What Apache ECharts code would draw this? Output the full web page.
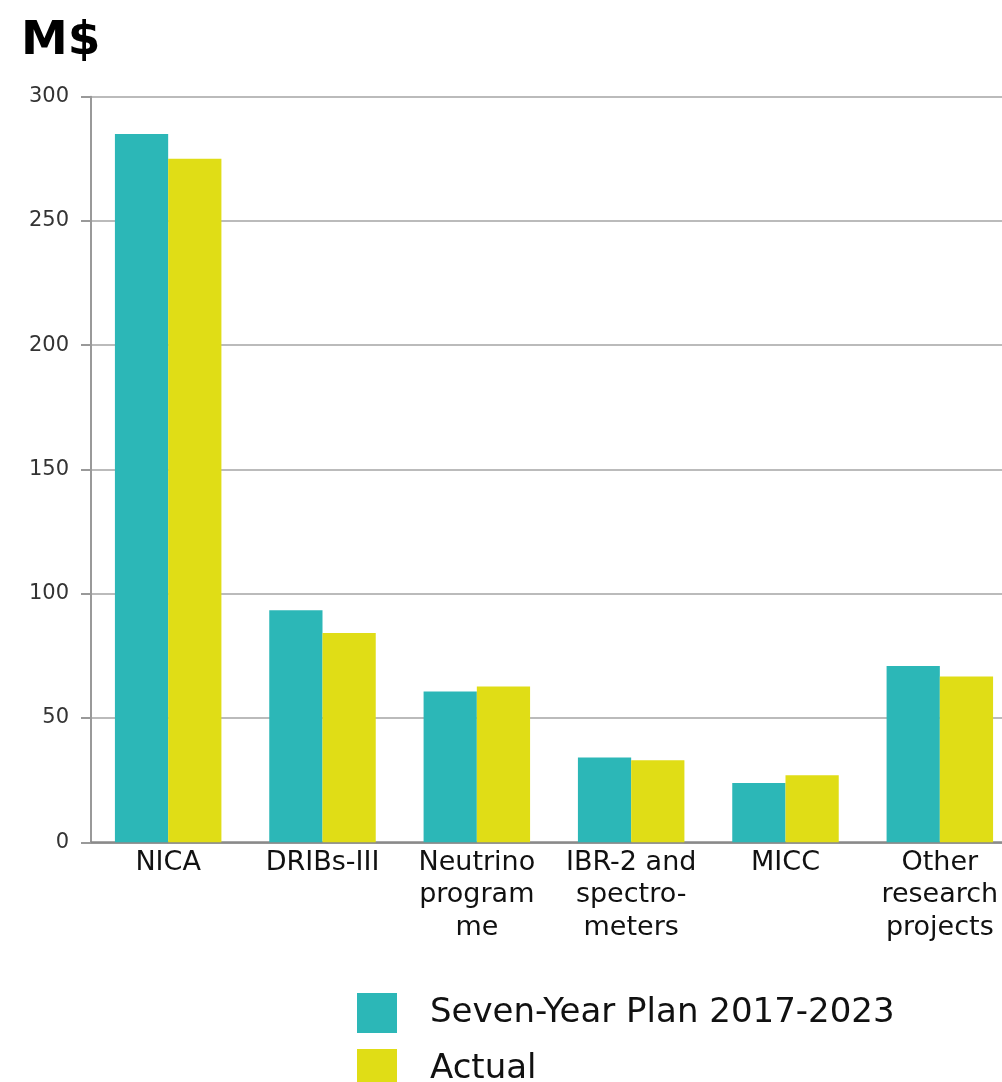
<!DOCTYPE html>
<html><head><meta charset="utf-8">
<script src="https://cdn.jsdelivr.net/npm/echarts@6/dist/echarts.min.js"></script>
<style>html,body{margin:0;padding:0;background:#fff;overflow:hidden;width:1002px;height:1082px}#c{width:1022px;height:1082px}</style>
</head><body><div id="c"></div>
<script>
const categories = ["NICA", "DRIBs-III", "Neutrino\nprogram\nme", "IBR-2 and\nspectro-\nmeters", "MICC", "Other\nresearch\nprojects"];
const planValues = [285, 93.4, 60.7, 34.1, 23.9, 70.9];
const actualValues = [275, 84.2, 62.7, 33.0, 27.0, 66.7];
const seriesNames = ["Seven-Year Plan 2017-2023", "Actual"];
const yTicks = [0, 50, 100, 150, 200, 250, 300];

const font = "DejaVu Sans";
const legendText = { fontFamily: font, fontSize: 34, color: '#111', padding: [0, 0, 0, 28] };
const chart = echarts.init(document.getElementById('c'));
chart.setOption({
  animation: false,
  textStyle: { fontFamily: font },
  title: { text: "M$", left: 16, top: 13, textStyle: { fontFamily: font, fontWeight: 'bold', fontSize: 47, color: '#000' } },
  grid: { left: 91, right: 5, top: 96.7, bottom: 239.7, containLabel: false },
  legend: [
    { left: 352, top: 988, itemWidth: 40, itemHeight: 40, icon: 'rect', textStyle: legendText, data: [seriesNames[0]] },
    { left: 352, top: 1044, itemWidth: 40, itemHeight: 40, icon: 'rect', textStyle: legendText, data: [seriesNames[1]] }
  ],
  xAxis: {
    type: 'category', data: categories,
    axisLine: { lineStyle: { color: '#8a8a8a', width: 2.5 } },
    axisTick: { show: false },
    axisLabel: { fontFamily: font, fontSize: 27, color: '#111', lineHeight: 32.5, margin: 4, interval: 0 }
  },
  yAxis: {
    type: 'value', min: yTicks[0], max: yTicks[yTicks.length - 1], interval: 50,
    axisLine: { show: true, lineStyle: { color: '#999', width: 2 } },
    axisTick: { show: true, length: 10, lineStyle: { color: '#999', width: 2 } },
    splitLine: { lineStyle: { color: '#bbb', width: 2 } },
    axisLabel: { fontFamily: font, fontSize: 21, color: '#333', margin: 22 }
  },
  series: [
    { name: seriesNames[0], type: 'bar', data: planValues, barGap: '0%', barCategoryGap: '31%', itemStyle: { color: '#2cb7b7' } },
    { name: seriesNames[1], type: 'bar', data: actualValues, itemStyle: { color: '#e0dd16' } }
  ]
});
</script></body></html>
